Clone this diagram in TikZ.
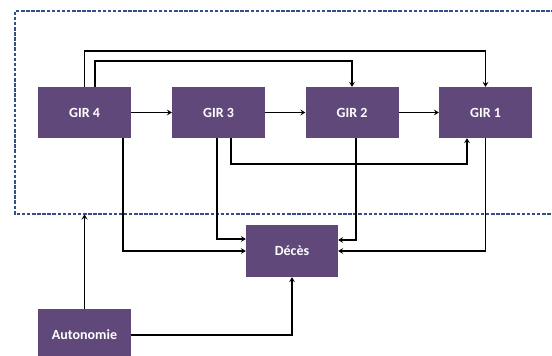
\documentclass[tikz,border=0pt]{standalone}
\usepackage{fontspec}
\setmainfont{Carlito}
\usetikzlibrary{arrows.meta}
\definecolor{girpurple}{RGB}{96,73,122}
\definecolor{dashblue}{RGB}{52,78,135}
\tikzset{
  box/.style={fill=girpurple, draw=none, minimum width=93pt, minimum height=51pt, inner sep=0pt,
    text=white, font=\fontsize{14}{16}\selectfont\bfseries},
  conn/.style={line width=1.5pt, black},
  arr/.style={conn, -{Stealth[length=5pt,width=6pt,inset=2pt]}},
  zone/.style={draw=dashblue, line width=1.3pt, dash pattern=on 3.5pt off 1.6pt}
}
\begin{document}
\begin{tikzpicture}[x=1pt,y=-1pt]
\useasboundingbox (0,0) rectangle (552,356);
\draw[zone] (560,11) -- (15,11) -- (15,214) -- (560,214);
\node[box] (g4) at (84.5,112.5) {GIR 4};
\node[box] (g3) at (218.5,112.5) {GIR 3};
\node[box] (g2) at (352,112.5) {GIR 2};
\node[box] (g1) at (485.5,112.5) {GIR 1};
\node[box, minimum width=92pt, minimum height=52pt] (dec) at (292,251) {Décès};
\node[box, minimum height=52pt] (auto) at (84.5,335) {Autonomie};
\coordinate (db) at (84.5,214.5);
\draw[arr] (g4) -- (g3);
\draw[arr] (g3) -- (g2);
\draw[arr] (g2) -- (g1);
\draw[arr] (g4.north) -- ++(0,-36) -| (g1.north);
\draw[arr] ([xshift=10.5pt]g4.north) -- ++(0,-26) -| (g2.north);
\draw[arr] ([xshift=12.5pt]g3.south) -- ++(0,26) -| ([xshift=-18.5pt]g1.south);
\draw[arr] ([xshift=38.5pt]g4.south) |- (dec.west);
\draw[arr] ([xshift=-1.5pt]g3.south) |- ([yshift=12pt]dec.west);
\draw[arr] ([xshift=4pt]g2.south) |- ([yshift=11pt]dec.east);
\draw[arr] (g1.south) |- (dec.east);
\draw[arr] (auto.north) -- (db);
\draw[arr] (auto.east) -| (dec.south);
\end{tikzpicture}
\end{document}
